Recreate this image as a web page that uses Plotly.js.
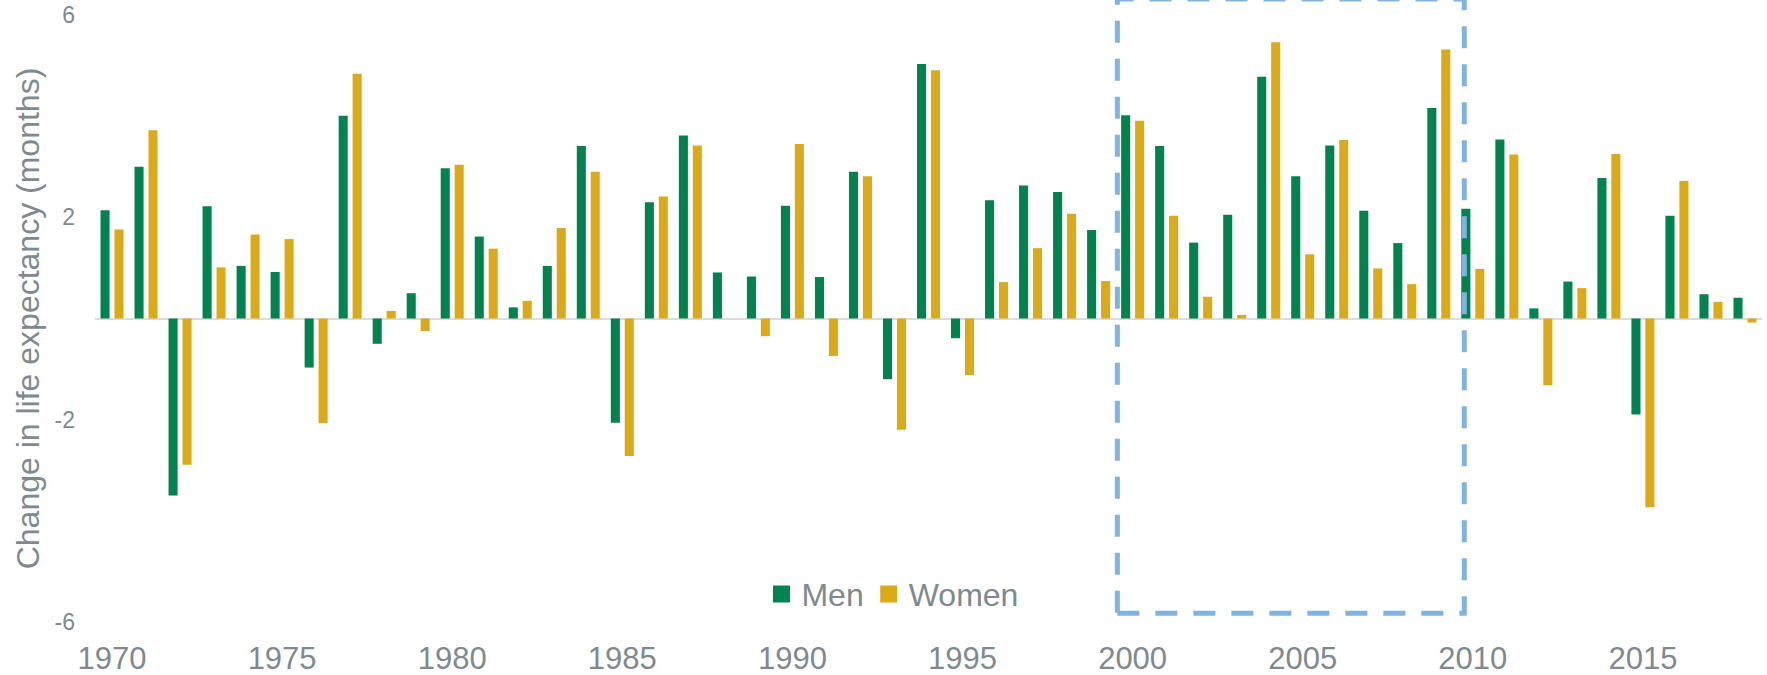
<!DOCTYPE html>
<html>
<head>
<meta charset="utf-8">
<script src="https://cdn.plot.ly/plotly-3.0.1.min.js"></script>
<style>
  html, body { margin: 0; padding: 0; background: #ffffff; }
  #chart { width: 1767px; height: 675px; }
</style>
</head>
<body>
<div id="chart"></div>
<script>
// Years (categories)
const years = [
  1970, 1971, 1972, 1973, 1974, 1975, 1976, 1977, 1978, 1979,
  1980, 1981, 1982, 1983, 1984, 1985, 1986, 1987, 1988, 1989,
  1990, 1991, 1992, 1993, 1994, 1995, 1996, 1997, 1998, 1999,
  2000, 2001, 2002, 2003, 2004, 2005, 2006, 2007, 2008, 2009,
  2010, 2011, 2012, 2013, 2014, 2015, 2016, 2017, 2018
];

// Change in life expectancy (months), men
const men = [
  2.14, 3.00, -3.50, 2.22, 1.04, 0.92, -0.97, 4.01, -0.50, 0.50,
  2.97, 1.62, 0.22, 1.04, 3.41, -2.06, 2.30, 3.62, 0.91, 0.83,
  2.23, 0.82, 2.90, -1.20, 5.03, -0.39, 2.34, 2.63, 2.50, 1.75,
  4.02, 3.41, 1.50, 2.05, 4.78, 2.81, 3.42, 2.13, 1.49, 4.16,
  2.17, 3.54, 0.20, 0.73, 2.78, -1.90, 2.03, 0.48, 0.41
];

// Change in life expectancy (months), women
const women = [
  1.76, 3.72, -2.89, 1.01, 1.66, 1.57, -2.07, 4.84, 0.15, -0.25,
  3.04, 1.38, 0.35, 1.79, 2.90, -2.72, 2.41, 3.42, 0.00, -0.35,
  3.45, -0.74, 2.81, -2.20, 4.91, -1.12, 0.72, 1.39, 2.07, 0.74,
  3.91, 2.03, 0.43, 0.07, 5.46, 1.27, 3.53, 0.99, 0.68, 5.32,
  0.98, 3.24, -1.32, 0.60, 3.25, -3.73, 2.72, 0.33, -0.08
];

// Axis ticks
const xTickVals = [1970, 1975, 1980, 1985, 1990, 1995, 2000, 2005, 2010, 2015];
const yTickVals = [-6, -2, 2, 6];
const yTickText = ['-6', '-2', '2', '6'];

const seriesNames = ['Men', 'Women'];

const GREEN = '#00834f';
const GOLD = '#daab17';
const GREY = '#7e8a8f';
const BOX = '#7fb4e2';
const FONT = 'Liberation Sans, Arial, Helvetica, sans-serif';

const traces = [
  {
    type: 'bar', name: seriesNames[0], x: years, y: men,
    marker: { color: GREEN, line: { width: 0 } },
    showlegend: false, legendgroup: 'men',
    hoverinfo: 'x+y+name'
  },
  {
    type: 'bar', name: seriesNames[1], x: years, y: women,
    marker: { color: GOLD, line: { width: 0 } },
    showlegend: false, legendgroup: 'women',
    hoverinfo: 'x+y+name'
  },
  // legend keys (larger square swatches), no plotted points
  {
    type: 'scatter', mode: 'markers', name: seriesNames[0], x: [null], y: [null],
    marker: { color: GREEN, symbol: 'square', size: 13, line: { width: 4, color: GREEN } },
    legendgroup: 'men', showlegend: true, hoverinfo: 'skip'
  },
  {
    type: 'scatter', mode: 'markers', name: seriesNames[1], x: [null], y: [null],
    marker: { color: GOLD, symbol: 'square', size: 13, line: { width: 4, color: GOLD } },
    legendgroup: 'women', showlegend: true, hoverinfo: 'skip'
  }
];

const layout = {
  width: 1767,
  height: 675,
  margin: { l: 95, r: 5, t: 15, b: 53, pad: 0 },
  paper_bgcolor: '#ffffff',
  plot_bgcolor: '#ffffff',
  font: { family: FONT, color: GREY, size: 20 },
  barmode: 'group',
  bargap: 0.18,
  bargroupgap: 0.35,
  showlegend: true,
  legend: {
    orientation: 'h',
    x: 0.3998, xanchor: 'left',
    y: 0.046, yanchor: 'middle',
    font: { family: FONT, size: 32, color: GREY },
    bgcolor: 'rgba(0,0,0,0)',
    traceorder: 'normal',
    itemsizing: 'trace'
  },
  xaxis: {
    type: 'linear',
    range: [1969.5, 2018.5],
    tickvals: xTickVals,
    ticktext: xTickVals.map(String),
    tickfont: { family: FONT, size: 31, color: GREY },
    showgrid: false, zeroline: false, showline: false, ticks: '',
    ticklabelstandoff: 15,
    fixedrange: true
  },
  yaxis: {
    range: [-6, 6],
    tickvals: yTickVals,
    ticktext: yTickText,
    tickfont: { family: FONT, size: 23, color: GREY },
    showgrid: false, showline: false, ticks: '',
    zeroline: true, zerolinecolor: '#dcdcdc', zerolinewidth: 2,
    ticklabelstandoff: 19,
    title: { text: 'Change in life expectancy (months)', font: { family: FONT, size: 32, color: GREY }, standoff: 5 },
    automargin: false,
    fixedrange: true
  },
  shapes: [
    {
      type: 'rect', layer: 'above',
      xref: 'paper', yref: 'paper',
      x0: 0.6133, x1: 0.8214, y0: 0.0143, y1: 1.0264,
      line: { color: BOX, width: 5, dash: '22px,16px' },
      fillcolor: 'rgba(0,0,0,0)'
    }
  ]
};

Plotly.newPlot('chart', traces, layout, { displayModeBar: false, staticPlot: true });
</script>
</body>
</html>
